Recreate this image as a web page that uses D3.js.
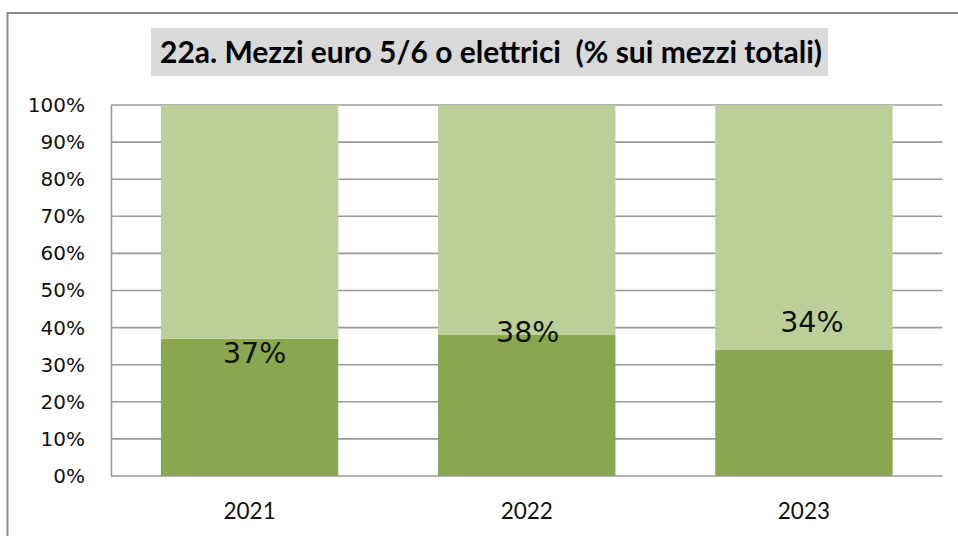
<!DOCTYPE html>
<html>
<head>
<meta charset="utf-8">
<script src="https://cdn.jsdelivr.net/npm/d3@7"></script>
<style>
  html, body { margin: 0; padding: 0; background: #fff; }
  svg { display: block; }
</style>
</head>
<body>
<script>
// Share of euro 5/6 or electric vehicles over the total fleet, by year
const categories = ["2021", "2022", "2023"];
const shareValues = [37, 38, 34];          // euro 5/6 or electric (%)
const remainderValues = [63, 62, 66];      // rest of the fleet (%)
const yTickValues = [0, 10, 20, 30, 40, 50, 60, 70, 80, 90, 100];
const titleText = "22a. Mezzi euro 5/6 o elettrici  (% sui mezzi totali)";

// hand placement of the value labels relative to the top of each dark bar
const labelDx = [5, 1, 8];
const labelDy = [24, 7, -18];

const W = 958, H = 536;
const plot = { left: 111, right: 942.5, top: 105, bottom: 476 };

const svg = d3.select("body").append("svg")
  .attr("width", W).attr("height", H);

// outer chart border (continues past the right and bottom edges)
svg.append("rect")
  .attr("x", 7.5).attr("y", 13)
  .attr("width", 1000).attr("height", 600)
  .attr("fill", "none").attr("stroke", "#8c8c8c").attr("stroke-width", 2);

// title with grey background
svg.append("rect")
  .attr("x", 151).attr("y", 28).attr("width", 677).attr("height", 48)
  .attr("fill", "#d9d9d9");
svg.append("text")
  .attr("x", 160).attr("y", 63)
  .style("white-space", "pre")
  .attr("textLength", 662).attr("lengthAdjust", "spacingAndGlyphs")
  .attr("font-family", "Lato, 'Open Sans', sans-serif")
  .attr("font-weight", "bold").attr("font-size", 29.5)
  .attr("fill", "#000")
  .text(titleText);

const x = d3.scaleBand()
  .domain(categories)
  .range([plot.left, plot.right])
  .paddingInner(0.36).paddingOuter(0.18);

const y = d3.scaleLinear().domain([0, 100]).range([plot.bottom, plot.top]);

// horizontal gridlines
svg.append("g")
  .selectAll("line").data(yTickValues.filter(d => d > 0))
  .join("line")
  .attr("x1", plot.left).attr("x2", plot.right)
  .attr("y1", d => y(d)).attr("y2", d => y(d))
  .attr("stroke", "#9a9a9a").attr("stroke-width", 1.6);

// stacked bars: remainder on top, share at the bottom
const stackRows = categories.map((c, i) => ({ cat: c, share: shareValues[i], rest: remainderValues[i] }));
const series = d3.stack().keys(["share", "rest"])(stackRows);
const fills = { share: "#8aa64f", rest: "#bccf99" };

svg.append("g")
  .selectAll("g").data(series).join("g")
  .attr("fill", s => fills[s.key])
  .selectAll("rect").data(s => s).join("rect")
  .attr("x", d => x(d.data.cat))
  .attr("width", x.bandwidth())
  .attr("y", d => y(d[1]))
  .attr("height", d => y(d[0]) - y(d[1]));

// axes lines
const yAxis = d3.axisLeft(y).tickValues(yTickValues).tickSize(0).tickPadding(26)
  .tickFormat(d => d + "%");
const gy = svg.append("g").attr("transform", `translate(${plot.left},0)`).call(yAxis);
gy.select(".domain").attr("stroke", "#9a9a9a").attr("stroke-width", 1.6);
gy.selectAll("text")
  .attr("font-family", "'DejaVu Sans', sans-serif")
  .attr("font-size", 20).attr("fill", "#111");

const xAxis = d3.axisBottom(x).tickSize(0).tickPadding(27);
const gx = svg.append("g").attr("transform", `translate(0,${plot.bottom})`).call(xAxis);
gx.select(".domain").attr("stroke", "#9a9a9a").attr("stroke-width", 1.6)
  .attr("d", `M${plot.left},0H${plot.right}`);
gx.selectAll("text")
  .attr("font-family", "Lato, 'Open Sans', sans-serif")
  .attr("font-size", 22.5).attr("fill", "#111");

// value labels
svg.append("g")
  .selectAll("text").data(stackRows)
  .join("text")
  .attr("x", (d, i) => x(d.cat) + x.bandwidth() / 2 + labelDx[i])
  .attr("y", (d, i) => y(d.share) + labelDy[i])
  .attr("text-anchor", "middle")
  .attr("font-family", "'DejaVu Sans', sans-serif")
  .attr("font-size", 28.5).attr("fill", "#111")
  .text(d => d.share + "%");
</script>
</body>
</html>
